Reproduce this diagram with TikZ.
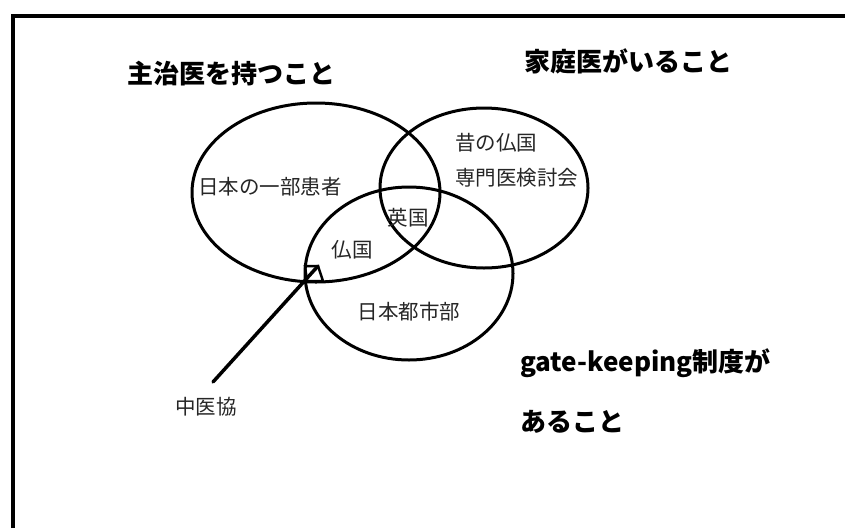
\documentclass[tikz,border=0pt]{standalone}
\usepackage{fontspec}
\usetikzlibrary{shapes.geometric}
\newfontfamily\jp{Noto Sans CJK JP}
\begin{document}
\begin{tikzpicture}[x=1pt,y=-1pt,
  circ/.style={draw, ellipse, line width=3pt, inner sep=0pt},
  title/.style={font=\jp\bfseries\fontsize{26}{30}\selectfont, inner sep=0pt},
  lbl/.style={font=\jp\fontsize{20.5}{24}\selectfont, inner sep=0pt, text=black!85}]
\useasboundingbox (0,0) rectangle (845,528);
\fill[white] (0,0) rectangle (845,528);
\draw[line width=4pt] (12.5,528) -- (12.5,15.5) -- (845,15.5);
% ellipses
\node[circ, minimum width=248pt, minimum height=179pt] (left) at (316,192.5) {};
\node[circ, minimum width=208pt, minimum height=160pt] (right) at (484,188) {};
\node[circ, minimum width=208pt, minimum height=173pt] (bottom) at (409,273.5) {};
% titles
\node[title] (t1) at (231,74) {主治医を持つこと};
\node[title] (t2) at (628,61) {家庭医がいること};
\node[title, anchor=west] (t3) at (520,363) {gate-keeping制度が};
\node[title, anchor=west] (t4) at (520,422) {あること};
% labels
\node[lbl] (jp1) at (270,187) {日本の一部患者};
\node[lbl] (uk) at (408,218) {英国};
\node[lbl] (fr) at (352,250) {仏国};
\node[lbl, anchor=west] (old1) at (455,143) {昔の仏国};
\node[lbl, anchor=west] (old2) at (455,178) {専門医検討会};
\node[lbl] (city) at (409,312) {日本都市部};
\node[lbl] (chui) at (206,407) {中医協};
% arrow
\coordinate (astart) at (213,382);
\coordinate (atip) at (318,266);
\draw[line width=3.5pt, line cap=round] (astart) -- (atip);
\draw[line width=2.5pt, line join=miter] (305,266) -- (318,266) -- (323,281) -- (307,281) -- cycle;
\end{tikzpicture}
\end{document}
